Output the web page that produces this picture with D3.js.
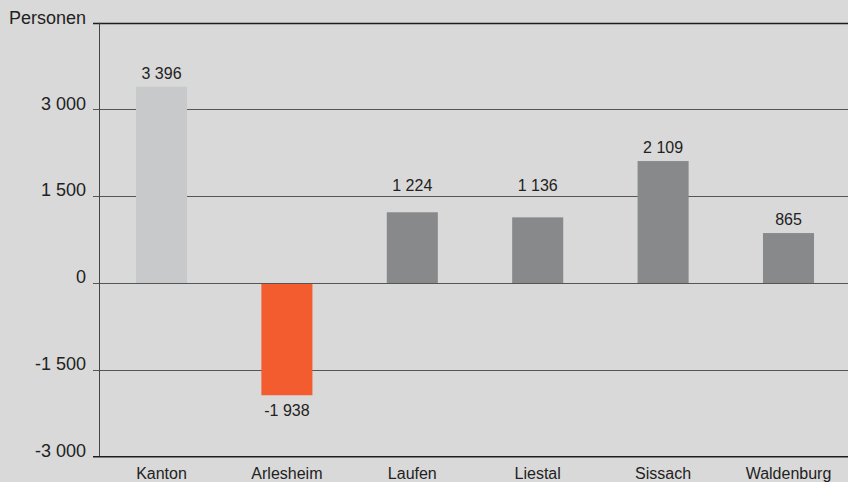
<!DOCTYPE html>
<html><head><meta charset="utf-8">
<script src="https://cdn.jsdelivr.net/npm/d3@7"></script>
<style>
html,body{margin:0;padding:0;background:#d9d9d9;}
svg{display:block;}
</style></head>
<body>
<svg id="c" width="848" height="482"></svg>
<script>
const categories = ["Kanton","Arlesheim","Laufen","Liestal","Sissach","Waldenburg"];
const values = [3396, -1938, 1224, 1136, 2109, 865];
const barColors = ["#c8c9cb","#f25c2e","#88898b","#88898b","#88898b","#88898b"];
const tickValues = [-3000, -1500, 0, 1500, 3000];
const yTitle = "Personen";

const fmt = v => {
  const s = d3.format(",")(Math.abs(v)).replace(/,/g, " ");
  return (v < 0 ? "-" : "") + s;
};

(function(){
const svg = d3.select("#c");
const W = 848, H = 482;
const pLeft = 99.5, pRight = 850.5, pTop = 22.7, pBottom = 456.7;

svg.append("rect").attr("width", W).attr("height", H).attr("fill", "#d9d9d9");

const x = d3.scaleBand().domain(categories).range([pLeft, pRight]).paddingInner(0.593).paddingOuter(0.291);
const y = d3.scaleLinear().domain([-3000, 4500]).range([pBottom, pTop]);

const gridVals = tickValues.filter(v => v !== -3000);
// gridlines
svg.append("g").selectAll("line").data(gridVals).join("line")
  .attr("x1", 93).attr("x2", W)
  .attr("y1", d => Math.round(y(d)) + 0.5).attr("y2", d => Math.round(y(d)) + 0.5)
  .attr("stroke", "#555").attr("stroke-width", 1);

// top line
svg.append("line").attr("x1", 93).attr("x2", W)
  .attr("y1", Math.round(pTop) + 0.5).attr("y2", Math.round(pTop) + 0.5)
  .attr("stroke", "#1e1e1e").attr("stroke-width", 1.5);

// bars
svg.append("g").selectAll("rect").data(values).join("rect")
  .attr("x", (d, i) => x(categories[i]))
  .attr("width", x.bandwidth())
  .attr("y", d => y(Math.max(0, d)))
  .attr("height", d => Math.abs(y(d) - y(0)))
  .attr("fill", (d, i) => barColors[i]);

// zero line over bars
svg.append("line").attr("x1", 93).attr("x2", W)
  .attr("y1", Math.round(y(0)) + 0.5).attr("y2", Math.round(y(0)) + 0.5)
  .attr("stroke", "#555").attr("stroke-width", 1);

// vertical axis line
svg.append("line").attr("x1", pLeft).attr("x2", pLeft)
  .attr("y1", pTop).attr("y2", pBottom)
  .attr("stroke", "#444").attr("stroke-width", 1);

// bottom line
svg.append("line").attr("x1", 93).attr("x2", W)
  .attr("y1", pBottom).attr("y2", pBottom)
  .attr("stroke", "#1e1e1e").attr("stroke-width", 1.5);

// y tick labels via axis
const yAxis = d3.axisLeft(y).tickValues(tickValues).tickSize(0).tickPadding(0)
  .tickFormat(d => fmt(d));
const ya = svg.append("g").attr("transform", "translate(86,0)").call(yAxis);
ya.select(".domain").remove();
ya.selectAll("text").attr("font-family", "'Liberation Sans', Arial, sans-serif")
  .attr("font-size", 18).attr("fill", "#222").attr("x", 0).attr("y", -0.5).attr("dy", null);

// y title
svg.append("text").attr("x", 86).attr("y", 24)
  .attr("text-anchor", "end").attr("font-family", "'Liberation Sans', Arial, sans-serif")
  .attr("font-size", 18).attr("fill", "#222").text(yTitle);

// x labels via axis
const xAxis = d3.axisBottom(x).tickSize(0).tickPadding(0);
const xa = svg.append("g").attr("transform", "translate(0," + pBottom + ")").call(xAxis);
xa.select(".domain").remove();
xa.selectAll("text").attr("font-family", "'Liberation Sans Narrow', 'Arial Narrow', sans-serif")
  .attr("font-size", 16).attr("fill", "#222").attr("y", 22).attr("dy", null);

// value labels (lifted above a gridline if they would cross it)
const labelY = d => {
  if (d < 0) return y(d) + 21;
  let b = y(d) - 8;
  const topEdge = b - 12;
  gridVals.forEach(g => {
    const gy = y(g);
    if (gy > topEdge - 2 && gy < b + 2) b = gy - 5;
  });
  return b;
};
svg.append("g").selectAll("text").data(values).join("text")
  .attr("x", (d, i) => x(categories[i]) + x.bandwidth() / 2)
  .attr("y", labelY)
  .attr("text-anchor", "middle")
  .attr("font-family", "'Liberation Sans Narrow', 'Arial Narrow', sans-serif")
  .attr("font-size", 16).attr("fill", "#222")
  .text(d => fmt(d));
})();
</script>
</body></html>
